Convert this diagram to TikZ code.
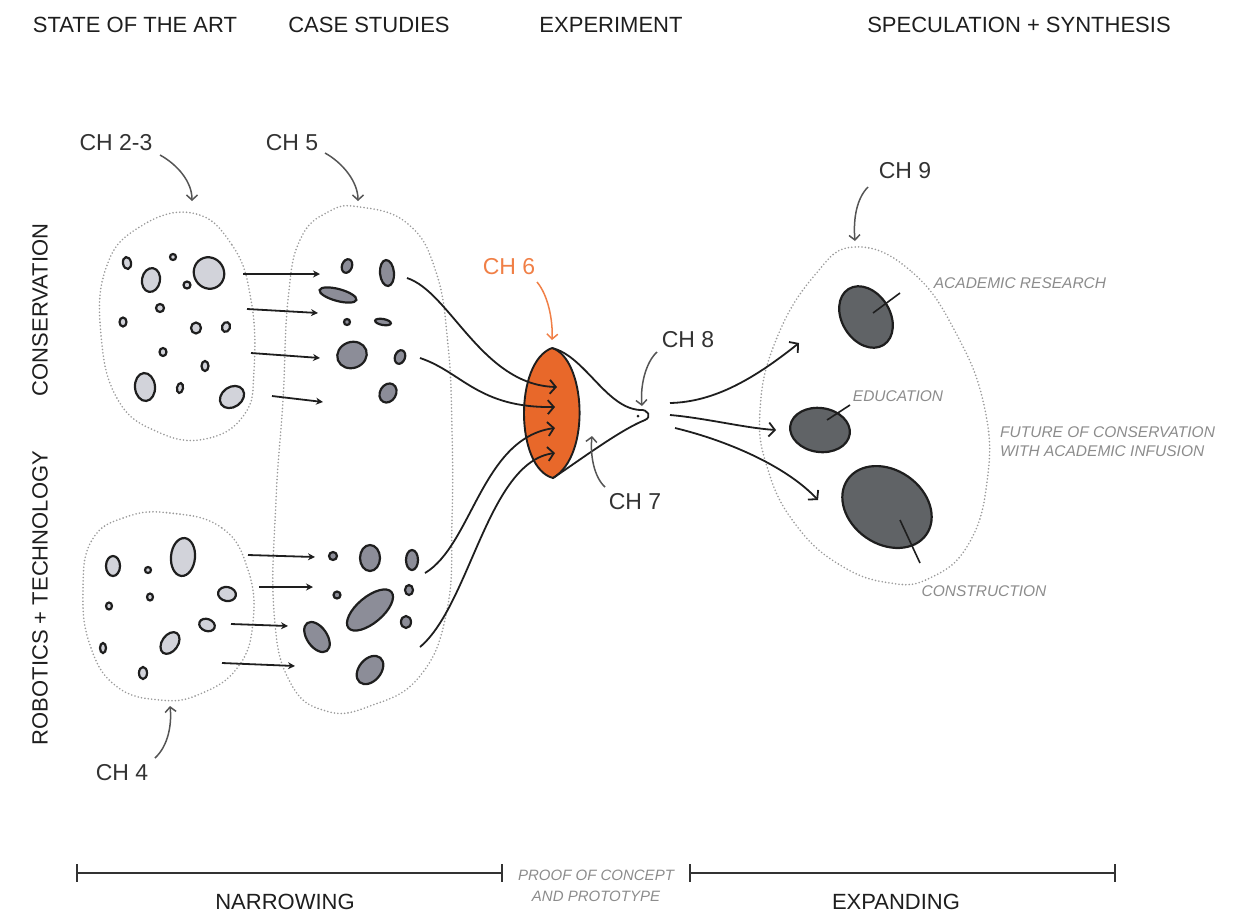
\documentclass[tikz,border=0pt]{standalone}
\usepackage{fontspec}
\setmainfont{Liberation Sans}
\usetikzlibrary{arrows.meta}

\definecolor{inkdark}{HTML}{1E1E1E}
\definecolor{labelgray}{HTML}{333333}
\definecolor{pointergray}{HTML}{555555}
\definecolor{notegray}{HTML}{8C8C8C}
\definecolor{dotgray}{HTML}{9A9A9A}
\definecolor{palepeb}{HTML}{D2D3DA}
\definecolor{midpeb}{HTML}{8C8D98}
\definecolor{darkpeb}{HTML}{606366}
\definecolor{protoorange}{HTML}{E8682A}
\definecolor{chorange}{HTML}{F07F46}

% one hand-drawn pebble: style, centre x, centre y, radii (pt), tilt
\newcommand\pebble[6]{%
  \draw[#1] (#2,#3) circle [x radius=#4pt, y radius=#5pt, rotate=#6];}

\tikzset{
  header/.style={font=\fontsize{22}{24}\selectfont, text=inkdark, inner sep=0pt},
  chlabel/.style={font=\fontsize{23}{25}\selectfont, text=labelgray, inner sep=0pt},
  note/.style={font=\itshape\fontsize{15.5}{19}\selectfont, text=notegray, inner sep=0pt},
  region/.style={draw=dotgray, line width=1.8pt, line cap=round, dash pattern=on 0pt off 3.4pt},
  palepebble/.style={draw=inkdark, fill=palepeb, line width=2.2pt},
  midpebble/.style={draw=inkdark, fill=midpeb, line width=2.2pt},
  darkpebble/.style={draw=inkdark, fill=darkpeb, line width=2.2pt},
  flow/.style={draw=inkdark, line width=1.8pt, -{Stealth[length=7pt,width=7pt]}},
  bigflow/.style={draw=inkdark, line width=1.8pt, -{Straight Barb[length=6pt,width=14pt]}},
  pointer/.style={draw=pointergray, line width=1.5pt, -{Straight Barb[length=5pt,width=11pt]}},
  leader/.style={draw=inkdark, line width=1.6pt},
  timeline/.style={draw=labelgray, line width=2pt}
}

\begin{document}
\begin{tikzpicture}[x=1pt,y=-1pt]
\useasboundingbox (0,0) rectangle (1245,914);

% ---------- column headers ----------
\node[header] (hstate) at (135,25) {STATE OF THE ART};
\node[header] (hcase)  at (369,25) {CASE STUDIES};
\node[header] (hexp)   at (611,25) {EXPERIMENT};
\node[header] (hspec)  at (1019,25) {SPECULATION + SYNTHESIS};

% ---------- row labels ----------
\node[header, rotate=90] (rcons)  at (40,310) {CONSERVATION};
\node[header, rotate=90] (rrobot) at (40,598) {ROBOTICS + TECHNOLOGY};

% ---------- dotted groupings ----------
\draw[region] plot[smooth cycle, tension=0.75] coordinates {
  (192,213) (232,245) (251,300) (254,370) (244,415) (205,439)
  (158,432) (118,400) (101,335) (106,268) (138,228)};
\draw[region] plot[smooth cycle, tension=0.75] coordinates {
  (360,207) (408,224) (436,272) (448,345) (452,430) (452,520)
  (447,610) (420,676) (370,706) (326,711) (290,682) (274,612)
  (276,500) (283,400) (288,300) (300,240) (328,212)};
\draw[region] plot[smooth cycle, tension=0.75] coordinates {
  (170,513) (222,528) (248,570) (253,622) (238,667) (200,694)
  (160,700) (116,686) (90,645) (83,590) (92,540) (126,517)};
\draw[region] plot[smooth cycle, tension=0.75] coordinates {
  (855,247) (912,272) (957,335) (985,410) (987,482) (968,545)
  (930,578) (890,583) (840,565) (796,525) (768,470) (760,410)
  (776,340) (814,276)};

% ---------- state of the art: conservation ----------
\pebble{palepebble}{127}{263}{4}{6}{10}
\pebble{palepebble}{151}{280}{9}{12}{-10}
\pebble{palepebble}{173}{257}{3}{3}{0}
\pebble{palepebble}{209}{273}{15}{16}{30}
\pebble{palepebble}{187}{285}{3.5}{3.5}{0}
\pebble{palepebble}{160}{308}{4}{4}{0}
\pebble{palepebble}{123}{322}{3.5}{4.5}{0}
\pebble{palepebble}{196}{328}{5}{5.5}{0}
\pebble{palepebble}{226}{327}{4}{5}{-20}
\pebble{palepebble}{163}{352}{3.5}{4}{0}
\pebble{palepebble}{205}{366}{3.5}{5}{0}
\pebble{palepebble}{145}{387}{10}{14}{5}
\pebble{palepebble}{180}{388}{3}{5}{-10}
\pebble{palepebble}{232}{397}{13}{10}{35}

% ---------- state of the art: robotics ----------
\pebble{palepebble}{113}{566}{7}{10}{0}
\pebble{palepebble}{148}{570}{3}{3}{0}
\pebble{palepebble}{183}{557}{12}{19}{-5}
\pebble{palepebble}{150}{597}{3}{3.5}{0}
\pebble{palepebble}{109}{606}{3}{3.5}{0}
\pebble{palepebble}{227}{594}{9}{7}{-10}
\pebble{palepebble}{207}{625}{8}{6}{-20}
\pebble{palepebble}{170}{643}{8}{12}{-35}
\pebble{palepebble}{103}{648}{3}{5}{0}
\pebble{palepebble}{143}{673}{4}{6}{0}

% ---------- case studies ----------
\pebble{midpebble}{347}{266}{5}{7}{-20}
\pebble{midpebble}{387}{273}{7}{13}{5}
\pebble{midpebble}{338}{295}{19}{6}{-15}
\pebble{midpebble}{347}{322}{3}{3}{0}
\pebble{midpebble}{383}{322}{8}{3}{-10}
\pebble{midpebble}{352}{355}{15}{13}{20}
\pebble{midpebble}{400}{357}{5}{7}{-20}
\pebble{midpebble}{388}{393}{8}{10}{-30}

\pebble{midpebble}{333}{556}{4}{4}{0}
\pebble{midpebble}{370}{558}{10}{13}{0}
\pebble{midpebble}{412}{560}{6}{10}{0}
\pebble{midpebble}{337}{595}{3.5}{3.5}{0}
\pebble{midpebble}{409}{590}{4}{5}{0}
\pebble{midpebble}{370}{610}{28}{13}{40}
\pebble{midpebble}{406}{622}{5}{6}{0}
\pebble{midpebble}{317}{637}{17}{10}{-55}
\pebble{midpebble}{370}{670}{16}{11}{50}

% ---------- straight flows into case studies ----------
\coordinate (a1s) at (243,274); \coordinate (a1e) at (320,274);
\coordinate (a2s) at (247,309); \coordinate (a2e) at (318,313);
\coordinate (a3s) at (251,353); \coordinate (a3e) at (320,358);
\coordinate (a4s) at (272,396); \coordinate (a4e) at (323,402);
\coordinate (b1s) at (248,555); \coordinate (b1e) at (315,557);
\coordinate (b2s) at (259,587); \coordinate (b2e) at (313,587);
\coordinate (b3s) at (231,624); \coordinate (b3e) at (288,626);
\coordinate (b4s) at (222,663); \coordinate (b4e) at (295,666);
\foreach \f in {a1,a2,a3,a4,b1,b2,b3,b4}
  \draw[flow] (\f s) -- (\f e);

% ---------- experiment: prototype lens ----------
\coordinate (lenstop) at (552,348);
\coordinate (lensbot) at (553,478);
\draw[fill=protoorange, draw=inkdark, line width=1.9pt]
  (lenstop) .. controls (585,358) and (592,455) .. (lensbot)
            .. controls (515,468) and (514,362) .. (lenstop);

% funnel narrowing to the proof point
\coordinate (knot) at (643,414);
\draw[inkdark, line width=1.8pt]
  (lenstop) .. controls (585,356) and (606,408) .. (640,410)
            .. controls (648,409) and (652,417) .. (645,420)
            .. controls (620,430) and (580,460) .. (lensbot);
\fill[inkdark] (638,416) circle (1.5pt);

% case studies converge into the prototype
\coordinate (c1s) at (407,278); \coordinate (c1e) at (557,387);
\coordinate (c2s) at (420,358); \coordinate (c2e) at (555,407);
\coordinate (c3s) at (425,573); \coordinate (c3e) at (555,428);
\coordinate (c4s) at (420,647); \coordinate (c4e) at (555,453);
\draw[bigflow] (c1s) .. controls (450,292) and (482,385) .. (c1e);
\draw[bigflow] (c2s) .. controls (462,372) and (478,408) .. (c2e);
\draw[bigflow] (c3s) .. controls (472,545) and (482,438) .. (c3e);
\draw[bigflow] (c4s) .. controls (470,605) and (488,462) .. (c4e);

% ---------- expanding flows ----------
\coordinate (d1s) at (670,403); \coordinate (d1e) at (799,343);
\coordinate (d2s) at (670,415); \coordinate (d2e) at (776,430);
\coordinate (d3s) at (675,428); \coordinate (d3e) at (818,500);
\draw[bigflow] (d1s) .. controls (715,402) and (755,378) .. (d1e);
\draw[bigflow] (d2s) .. controls (705,418) and (745,428) .. (d2e);
\draw[bigflow] (d3s) .. controls (725,440) and (785,465) .. (d3e);

% ---------- future outcomes ----------
\pebble{darkpebble}{866}{317}{33}{24}{-58}
\pebble{darkpebble}{820}{430}{30}{22}{-8}
\pebble{darkpebble}{887}{507}{48}{37}{-35}

\coordinate (l1a) at (873,313); \coordinate (l1b) at (900,293);
\coordinate (l2a) at (827,420); \coordinate (l2b) at (850,405);
\coordinate (l3a) at (900,520); \coordinate (l3b) at (920,563);
\draw[leader] (l1a) -- (l1b);
\draw[leader] (l2a) -- (l2b);
\draw[leader] (l3a) -- (l3b);

\node[note] (nacad)  at (1020,283) {ACADEMIC RESEARCH};
\node[note] (nedu)   at (898,396)  {EDUCATION};
\node[note, anchor=west, align=left] (nfuture) at (1000,442)
  {FUTURE OF CONSERVATION\\WITH ACADEMIC INFUSION};
\node[note] (nconst) at (984,591)  {CONSTRUCTION};

% ---------- chapter labels ----------
\node[chlabel] (ch23) at (116,143) {CH 2-3};
\node[chlabel] (ch5)  at (292,143) {CH 5};
\node[chlabel, text=chorange] (ch6) at (509,267) {CH 6};
\node[chlabel] (ch8)  at (688,340) {CH 8};
\node[chlabel] (ch7)  at (635,502) {CH 7};
\node[chlabel] (ch9)  at (905,171) {CH 9};
\node[chlabel] (ch4)  at (122,773) {CH 4};

\coordinate (p23s) at (160,155); \coordinate (p23e) at (192,201);
\coordinate (p5s)  at (325,153); \coordinate (p5e)  at (358,201);
\coordinate (p6s)  at (537,282); \coordinate (p6e)  at (552,340);
\coordinate (p8s)  at (657,352); \coordinate (p8e)  at (642,406);
\coordinate (p7s)  at (605,487); \coordinate (p7e)  at (592,436);
\coordinate (p9s)  at (868,187); \coordinate (p9e)  at (855,241);
\coordinate (p4s)  at (155,758); \coordinate (p4e)  at (170,706);
\draw[pointer] (p23s) .. controls (178,165) and (192,182) .. (p23e);
\draw[pointer] (p5s)  .. controls (343,163) and (358,182) .. (p5e);
\draw[pointer, draw=chorange] (p6s) .. controls (548,295) and (553,320) .. (p6e);
\draw[pointer] (p8s)  .. controls (646,362) and (640,385) .. (p8e);
\draw[pointer] (p7s)  .. controls (594,477) and (590,455) .. (p7e);
\draw[pointer] (p9s)  .. controls (857,198) and (853,218) .. (p9e);
\draw[pointer] (p4s)  .. controls (168,746) and (172,725) .. (p4e);

% ---------- timeline ----------
\coordinate (t1a) at (77,873);  \coordinate (t1b) at (502,873);
\coordinate (t2a) at (690,873); \coordinate (t2b) at (1115,873);
\draw[timeline] (t1a) -- (t1b);
\draw[timeline] (t2a) -- (t2b);
\foreach \t in {t1a,t1b,t2a,t2b}
  \draw[timeline] ([yshift=9pt]\t) -- ([yshift=-9pt]\t);

\node[header] (narrow) at (285,902) {NARROWING};
\node[header] (expand) at (896,902) {EXPANDING};
\node[note, align=center, font=\itshape\fontsize{15}{21}\selectfont]
  (proof) at (596,886) {PROOF OF CONCEPT\\AND PROTOTYPE};
\end{tikzpicture}
\end{document}
